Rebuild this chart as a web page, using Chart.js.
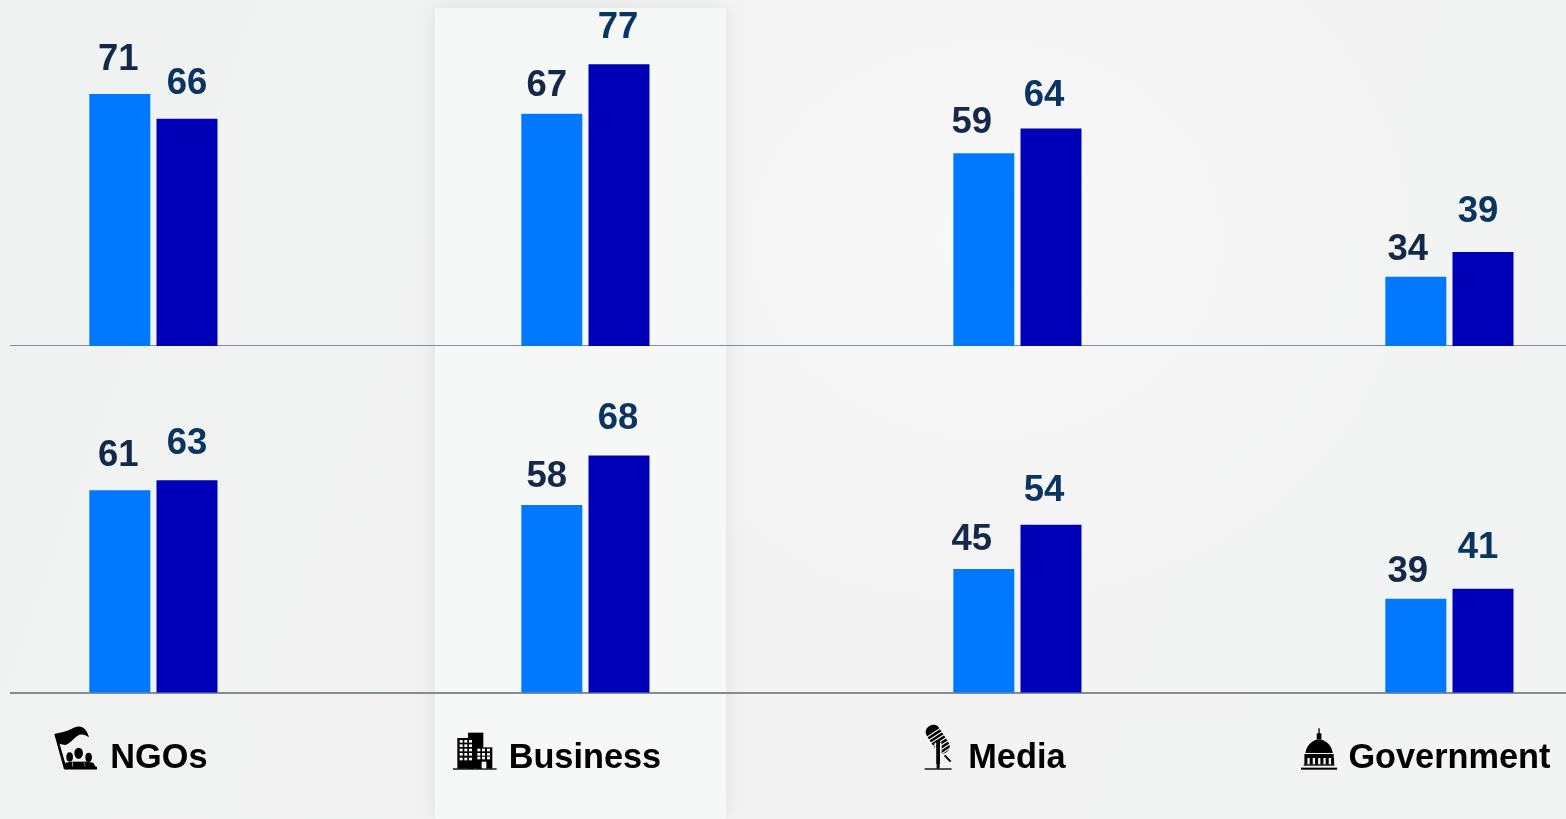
<!DOCTYPE html>
<html>
<head>
<meta charset="utf-8">
<title>NGOs, Business, Media, Government</title>
<script src="https://cdn.jsdelivr.net/npm/chart.js@4/dist/chart.umd.min.js"></script>
<style>
  html, body { margin: 0; width: 1566px; height: 819px; overflow: hidden; }
  body {
    position: relative;
    background:
      radial-gradient(ellipse 470px 400px at 985px 240px, #f8f8f8 0%, rgba(248,248,248,0) 100%),
      linear-gradient(110deg, #f0f1f1 0%, #f3f3f4 55%, #f2f3f3 100%);
  }
  #panel {
    position: absolute; left: 435px; top: 8px; width: 291px; height: 811px;
    background: #f6f7f7;
    box-shadow: 0 0 22px rgba(0,0,0,.08);
  }
  .row { position: absolute; left: 10px; width: 1556px; overflow: hidden; }
  .row canvas { position: absolute; left: -73px; top: 0; }
  #rowTop { top: 0; height: 346px; }
  #rowBottom { top: 347px; height: 472px; }
</style>
</head>
<body>
<div id="panel"></div>
<div class="row" id="rowTop"><canvas id="chartTop" width="1729" height="346"></canvas></div>
<div class="row" id="rowBottom"><canvas id="chartBottom" width="1729" height="472"></canvas></div>

<script>
const categories = ["NGOs", "Business", "Media", "Government"];

const topLight = [71, 67, 59, 34];
const topDark = [66, 77, 64, 39];
const bottomLight = [61, 58, 45, 39];
const bottomDark = [63, 68, 54, 41];

// value labels sit a little off their bars, horizontally and by varying gaps
const lightLabelDx = [-1.5, -5, -12, -8];
const darkLabelDx = [0, -1, -7, -5];
const topLightGap = [34, 28, 30, 27];
const topDarkGap = [35, 36, 33, 40];
const bottomLightGap = [34, 28, 29, 27];
const bottomDarkGap = [36, 37, 34, 41];

const captionDx = [5.5, -0.5, -0.5, 0];
const iconOffset = [65, 63, 58, 58];

const LIGHT_BLUE = "#0078ff";
const DARK_BLUE = "#0000b6";
const LIGHT_LABEL = "#14294a";
const DARK_LABEL = "#0a3560";
const AXIS_COLOR = "#7f8e98";
const FONT = '"Liberation Sans", Arial, sans-serif';

// icons are drawn on a 210x180 grid, a third of a pixel per unit
function iconNgo(c, paper) {
  c.beginPath();
  c.moveTo(27, 42);
  c.bezierCurveTo(45, 38, 62, 36, 78, 27);
  c.bezierCurveTo(92, 19, 108, 15, 120, 29);
  c.bezierCurveTo(126, 36, 129, 44, 131, 52);
  c.bezierCurveTo(120, 44, 108, 40, 96, 48);
  c.bezierCurveTo(84, 56, 76, 70, 60, 75);
  c.lineTo(43, 72);
  c.lineTo(65, 148);
  c.lineTo(56, 148);
  c.closePath();
  c.fill();
  // side figures first, the middle one overlaps them with a pale outline
  c.beginPath();
  c.ellipse(73, 111, 10, 14, 0, 0, Math.PI * 2);
  c.ellipse(130, 112, 10, 14, 0, 0, Math.PI * 2);
  c.fill();
  c.beginPath();
  c.moveTo(60, 148);
  c.lineTo(60, 128);
  c.lineTo(86, 124);
  c.lineTo(118, 124);
  c.lineTo(144, 128);
  c.lineTo(155, 148);
  c.closePath();
  c.fill();
  c.beginPath();
  c.ellipse(100, 100, 13, 17, 0, 0, Math.PI * 2);
  c.moveTo(82, 148);
  c.lineTo(82, 125);
  c.lineTo(118, 125);
  c.lineTo(118, 148);
  c.closePath();
  c.strokeStyle = paper;
  c.lineWidth = 3;
  c.stroke();
  c.fill();
  c.fillRect(60, 140, 95, 8);
}

function iconBusiness(c, paper) {
  c.fillRect(22, 145, 131, 4);
  c.fillRect(35, 54, 47, 92);
  c.fillRect(67, 38, 46, 108);
  c.fillRect(93, 82, 47, 64);
  c.fillStyle = paper;
  for (const x of [42, 56, 70]) {
    for (const y of [60, 73, 86, 99, 113]) c.fillRect(x, y, 9, 8);
  }
  for (const x of [95, 109, 124]) {
    for (const y of [86, 99, 110]) c.fillRect(x, y, 9, 8);
  }
  c.fillRect(108, 125, 14, 20);
}

function iconMedia(c, paper) {
  c.fillRect(43, 145, 81, 4);
  c.fillRect(79, 66, 9, 80);
  c.lineWidth = 6;
  c.beginPath();
  c.moveTo(103, 106);
  c.lineTo(121, 125);
  c.stroke();
  c.save();
  c.translate(85, 62);
  c.rotate(-Math.PI / 5.5);
  c.beginPath();
  c.roundRect(-22, -52, 44, 94, 20);
  c.fill();
  c.fillStyle = paper;
  for (let y = -30; y < 40; y += 11) c.fillRect(-23, y, 46, 3.5);
  c.restore();
  c.fillStyle = paper;
  c.fillRect(73, 68, 5, 46);
  c.fillRect(89, 68, 5, 46);
  c.fillStyle = "#000";
  c.fillRect(78, 62, 11, 70);
}

function iconGovernment(c) {
  c.fillRect(84, 25, 4, 20);
  c.fillRect(79, 40, 14, 18);
  c.beginPath();
  c.moveTo(45, 99);
  c.bezierCurveTo(48, 74, 70, 58, 86, 58);
  c.bezierCurveTo(102, 58, 124, 74, 127, 99);
  c.closePath();
  c.fill();
  c.fillRect(42, 102, 88, 12);
  for (const x of [42, 58, 74, 90, 106, 122]) c.fillRect(x, 114, 9, 20);
  c.fillRect(40, 133, 92, 4);
  c.fillRect(32, 143, 108, 6);
}

const icons = [iconNgo, iconBusiness, iconMedia, iconGovernment];

function valueLabels(lightGaps, darkGaps) {
  return {
    id: "valueLabels",
    afterDatasetsDraw(chart) {
      const c = chart.ctx;
      c.save();
      c.font = "bold 36.5px " + FONT;
      c.textAlign = "center";
      c.textBaseline = "middle";
      chart.data.datasets.forEach((ds, d) => {
        const dx = d === 0 ? lightLabelDx : darkLabelDx;
        const gaps = d === 0 ? lightGaps : darkGaps;
        c.fillStyle = d === 0 ? LIGHT_LABEL : DARK_LABEL;
        chart.getDatasetMeta(d).data.forEach((bar, i) => {
          c.fillText(ds.data[i], bar.x + dx[i], bar.y - gaps[i]);
        });
      });
      c.restore();
    },
  };
}

// category names with their icons under the lower row
const captions = {
  id: "captions",
  afterDraw(chart) {
    const c = chart.ctx;
    const x = chart.scales.x;
    const baseline = 768 - 347;
    const iconTop = 720 - 347;
    c.save();
    c.font = "bold 34.3px " + FONT;
    c.textAlign = "left";
    c.textBaseline = "alphabetic";
    categories.forEach((name, i) => {
      const w = c.measureText(name).width;
      const left = x.getPixelForTick(i) + captionDx[i] - w / 2;
      c.fillStyle = "#000";
      c.fillText(name, left, baseline);
      c.save();
      c.translate(left - iconOffset[i], iconTop);
      c.scale(1 / 3, 1 / 3);
      c.fillStyle = "#000";
      c.strokeStyle = "#000";
      icons[i](c, i === 1 ? "#f6f7f7" : "#f3f3f4");
      c.restore();
    });
    c.restore();
  },
};

function makeChart(id, light, dark, bottomPad, plugins) {
  return new Chart(document.getElementById(id), {
    type: "bar",
    data: {
      labels: categories,
      datasets: [
        { data: light, backgroundColor: LIGHT_BLUE },
        { data: dark, backgroundColor: DARK_BLUE },
      ],
    },
    options: {
      responsive: false,
      animation: false,
      events: [],
      categoryPercentage: 0.311,
      barPercentage: 0.908,
      layout: { padding: { left: 0.4, right: 0.6, bottom: bottomPad } },
      plugins: { legend: { display: false }, tooltip: { enabled: false } },
      scales: {
        x: {
          grid: { display: false, drawTicks: false },
          border: { color: AXIS_COLOR, width: 2 },
          ticks: { display: false },
        },
        y: { display: false, min: 20, max: 90 },
      },
    },
    plugins,
  });
}

makeChart("chartTop", topLight, topDark, 0, [valueLabels(topLightGap, topDarkGap)]);
makeChart("chartBottom", bottomLight, bottomDark, 126.5, [valueLabels(bottomLightGap, bottomDarkGap), captions]);
</script>
</body>
</html>
